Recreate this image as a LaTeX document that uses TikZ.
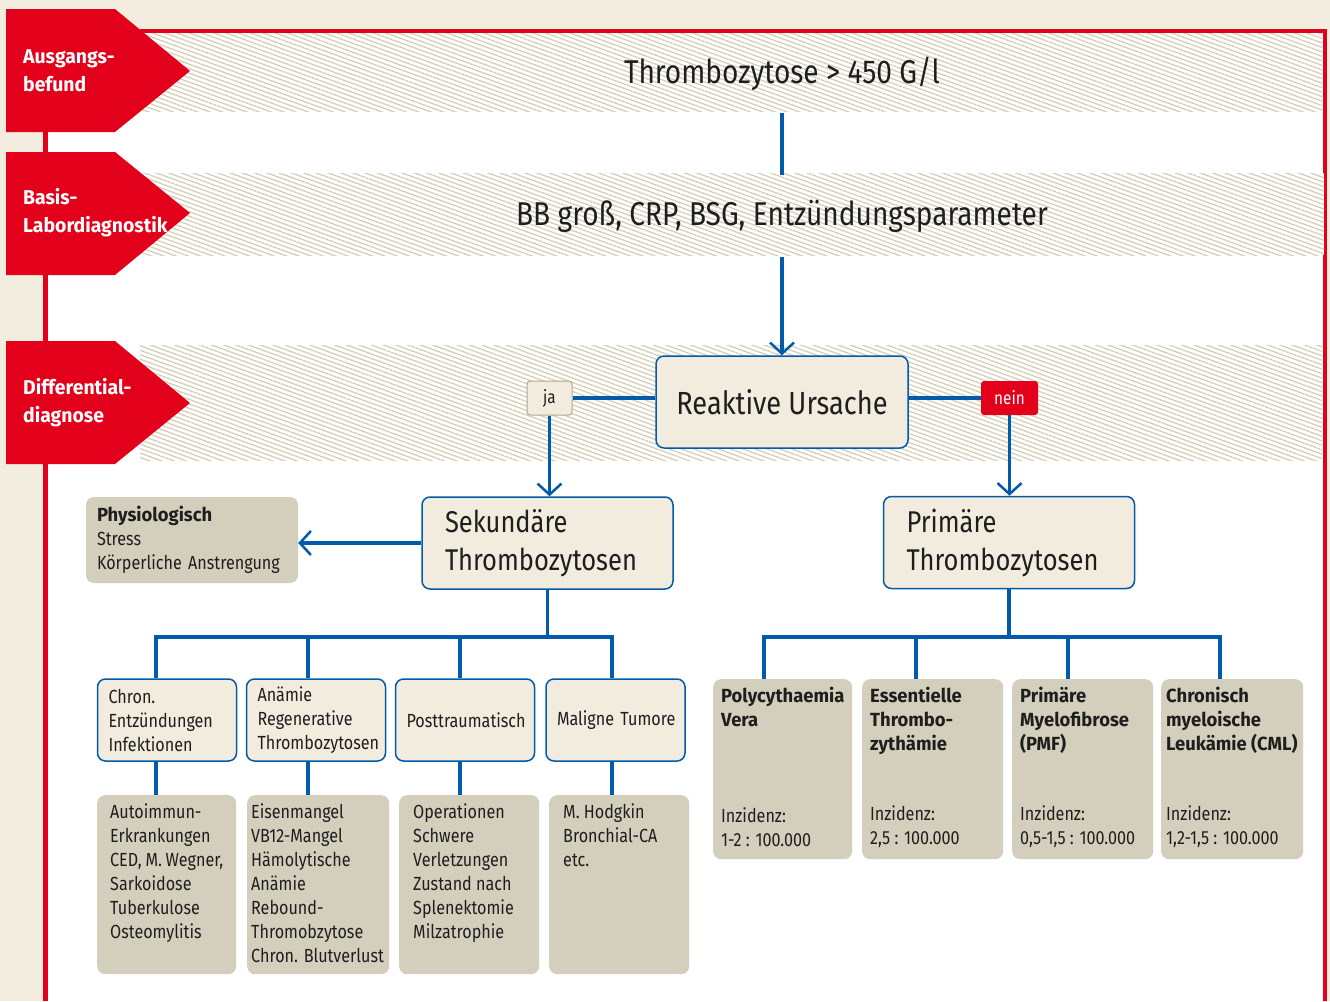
\documentclass[tikz,border=0pt]{standalone}
\usepackage{fontspec}
\setmainfont{Fira Sans}[FakeStretch=0.85,BoldFeatures={FakeStretch=0.97}]
\usetikzlibrary{positioning,arrows.meta,patterns.meta}
\definecolor{pagebg}{HTML}{F3EDE0}
\definecolor{tagred}{HTML}{E2001A}
\definecolor{lineblue}{HTML}{005BAA}
\definecolor{boxfill}{HTML}{F2ECDE}
\definecolor{greyfill}{HTML}{D4CFBC}
\definecolor{hatch}{HTML}{D3CBB3}
\definecolor{jaline}{HTML}{B9A58E}
\definecolor{txt}{HTML}{1E1E1E}
\newcommand\fs[2]{\fontsize{#1}{#2}\selectfont}

\begin{document}
\begin{tikzpicture}[x=1pt,y=-1pt,
  band/.style={fill=white,postaction={pattern={Lines[angle=-20,distance=4.2pt,line width=1.2pt]},pattern color=hatch}},
  redline/.style={tagred,line width=5pt},
  tagtxt/.style={text=white,font=\bfseries\fs{20}{28},align=left,anchor=west,inner sep=0pt},
  headtxt/.style={text=txt,font=\fs{33}{40},inner sep=0pt},
  flowbox/.style={rectangle,rounded corners=8pt,draw=lineblue,line width=1.5pt,fill=boxfill,text=txt},
  bigbox/.style={flowbox,font=\fs{30}{38},minimum height=92pt,text width=205pt,inner xsep=23pt,align=left},
  subbox/.style={flowbox,font=\fs{19}{24},minimum height=82pt,text width=117pt,inner xsep=11pt,align=left},
  greybox/.style={rectangle,rounded corners=8pt,fill=greyfill,text=txt,font=\fs{19}{24},inner ysep=8pt,anchor=north west},
  answer/.style={rectangle,rounded corners=3pt,font=\fs{18}{20},minimum height=34pt},
  link/.style={lineblue,line width=3.5pt},
  arr/.style={link,-{Straight Barb[length=11pt,width=24pt,line width=2.5pt]}}]
\useasboundingbox (0,0) rectangle (1330,1001);
\fill[pagebg] (0,0) rectangle (1330,1001);
\fill[white] (45,31) rectangle (1325,1001);

% hatched bands
\fill[band] (140,33) rectangle (1322,111);
\fill[band] (140,345) rectangle (1322,460);
\draw[redline] (45.5,9) -- (45.5,1001);
\draw[redline,line width=4pt] (140,31) -- (1324.5,31) -- (1324.5,1001);
\fill[band] (140,173) rectangle (1324,255);

% red tags
\fill[tagred] (6,9) -- (115,9) -- (190,71) -- (115,132) -- (6,132) -- cycle;
\fill[tagred] (6,152) -- (115,152) -- (190,213) -- (115,275) -- (6,275) -- cycle;
\fill[tagred] (6,341) -- (115,341) -- (190,403) -- (115,464) -- (6,464) -- cycle;
\node[tagtxt] (t1) at (23,71) {Ausgangs-\\befund};
\node[tagtxt] (t2) at (23,213) {Basis-\\Labordiagnostik};
\node[tagtxt] (t3) at (23,403) {Differential-\\diagnose};

\node[headtxt,minimum height=78pt] (h1) at (782,74) {Thrombozytose > 450 G/l};
\node[headtxt,minimum height=82pt] (h2) at (782,216) {BB groß, CRP, BSG, Entzündungsparameter};

\node[flowbox,font=\fs{32}{38},minimum width=252pt,minimum height=92pt] (reak) at (782,402) {Reaktive Ursache};
\node[answer,draw=jaline,line width=1pt,fill=boxfill,text=txt,minimum width=45pt] (ja) at (549.5,398) {ja};
\node[answer,fill=tagred,text=white,minimum width=57pt] (nein) at (1009.5,398) {nein};

\node[bigbox] (sek) at (547.5,543) {Sekundäre\\Thrombozytosen};
\node[bigbox] (prim) at (1009,542.5) {Primäre\\Thrombozytosen};
\node[greybox,anchor=center,minimum height=86pt,text width=190pt,inner xsep=11pt,align=left] (phys) at (192,540) {\textbf{Physiologisch}\\Stress\\Körperliche Anstrengung};

\node[subbox] (c1) at (167,720) {Chron.\\Entzündungen\\Infektionen};
\node[subbox] (c2) at (316,720) {Anämie\\Regenerative\\Thrombozytosen};
\node[subbox] (c3) at (465,720) {Posttraumatisch};
\node[subbox] (c4) at (615.5,720) {\mbox{Maligne Tumore}};

\node[greybox,inner xsep=13pt] (g1) at (97,795) {\parbox[t][163pt][t]{113pt}{Autoimmun-\\Erkrankungen\\CED, M. Wegner,\\Sarkoidose\\Tuberkulose\\Osteomylitis}};
\node[greybox,inner xsep=4pt] (g2) at (247,795) {\parbox[t][163pt][t]{134pt}{Eisenmangel\\VB12-Mangel\\Hämolytische\\Anämie\\Rebound-\\Thromobzytose\\Chron. Blutverlust}};
\node[greybox,inner xsep=14pt] (g3) at (399,795) {\parbox[t][163pt][t]{112pt}{Operationen\\Schwere\\Verletzungen\\Zustand nach\\Splenektomie\\Milzatrophie}};
\node[greybox,inner xsep=14pt] (g4) at (549,795) {\parbox[t][163pt][t]{112pt}{M. Hodgkin\\Bronchial-CA\\etc.}};

\node[greybox,inner xsep=8pt] (p1) at (713,679) {\parbox[t][164pt][s]{123pt}{\textbf{Polycythaemia}\\\textbf{Vera}\par\vfill Inzidenz:\\1-2 : 100.000\par\vspace*{4pt}}};
\node[greybox,inner xsep=8pt] (p2) at (862,679) {\parbox[t][164pt][s]{125pt}{\textbf{Essentielle}\\\textbf{Thrombo-}\\\textbf{zythämie}\par\vfill Inzidenz:\\2,5 : 100.000\par\vspace*{4pt}}};
\node[greybox,inner xsep=8pt] (p3) at (1012,679) {\parbox[t][164pt][s]{125pt}{\textbf{Primäre}\\\textbf{Myelofibrose}\\\textbf{(PMF)}\par\vfill Inzidenz:\\0,5-1,5 : 100.000\par\vspace*{4pt}}};
\node[greybox,inner xsep=5pt] (p4) at (1161,679) {\parbox[t][164pt][s]{132pt}{\textbf{Chronisch}\\\textbf{myeloische}\\\textbf{Leukämie (CML)}\par\vfill Inzidenz:\\1,2-1,5 : 100.000\par\vspace*{4pt}}};

% connectors
\draw[link] (h1.south) -- (h2.north);
\draw[arr] (h2.south) -- (reak.north);
\draw[link] (ja.east) -- (ja.east -| reak.west);
\draw[link] (nein.west -| reak.east) -- (nein.west);
\draw[arr] (ja.south) -- (ja.south |- sek.north);
\draw[arr] (nein.south) -- (nein.south |- prim.north);
\draw[arr] (sek.west) -- (sek.west -| phys.east);

\foreach \n/\x in {1/156,2/308,3/460,4/612} \coordinate (s\n) at (\x,637);
\draw[link] (sek.south) -- (sek.south |- s1);
\draw[link] (s1 |- c1.north) -- (s1) -- (s4) -- (s4 |- c4.north);
\foreach \n in {2,3} \draw[link] (s\n) -- (s\n |- c\n.north);
\foreach \n in {1,...,4} \draw[link] (s\n |- c\n.south) -- (s\n |- g\n.north);

\foreach \n/\x in {1/764,2/916,3/1068,4/1220} \coordinate (q\n) at (\x,637);
\draw[link] (prim.south) -- (prim.south |- q1);
\draw[link] (q1 |- p1.north) -- (q1) -- (q4) -- (q4 |- p4.north);
\foreach \n in {2,3} \draw[link] (q\n) -- (q\n |- p\n.north);
\end{tikzpicture}
\end{document}
